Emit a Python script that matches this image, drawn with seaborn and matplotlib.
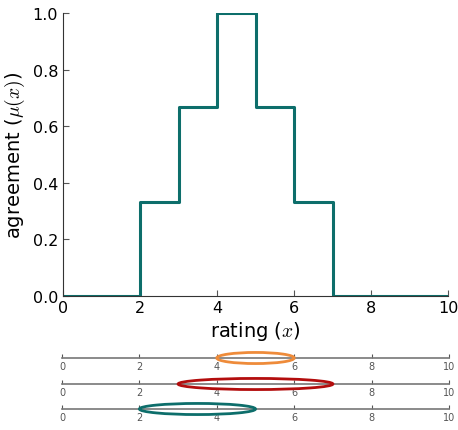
import numpy as np
import matplotlib
matplotlib.use("Agg")
import matplotlib.pyplot as plt
from matplotlib.patches import Ellipse
import pandas as pd
import seaborn as sns

# step function: agreement among the three ratings
rating_x = [0, 2, 3, 4, 5, 6, 7, 10]
agreement = [0.0, 1 / 3, 2 / 3, 1.0, 2 / 3, 1 / 3, 0.0, 0.0]

# rating intervals (top to bottom)
interval_lo = [4, 3, 2]
interval_hi = [6, 7, 5]
interval_colors = ["#ee8b3a", "#b30d0d", "#0d6e6b"]

line_color = "#0d6e6b"
axis_ticks = [0, 2, 4, 6, 8, 10]

sns.set_style("white")
plt.rcParams["font.family"] = ["DejaVu Sans"]
plt.rcParams["mathtext.fontset"] = "cm"
plt.rcParams["text.color"] = "black"
plt.rcParams["axes.labelcolor"] = "black"
plt.rcParams["xtick.color"] = "black"
plt.rcParams["ytick.color"] = "black"

fig = plt.figure(figsize=(4.58, 4.31), dpi=100)
W, H = 458, 431

def frac(l, t, r, b):
    return [l / W, 1 - b / H, (r - l) / W, (b - t) / H]

ax = fig.add_axes(frac(63, 14, 448, 297))
df = pd.DataFrame({"x": rating_x, "y": agreement})
sns.lineplot(data=df, x="x", y="y", ax=ax, color=line_color, linewidth=2.2,
             drawstyle="steps-post")
ax.set_xlim(0, 10)
ax.set_ylim(0, 1)
ax.set_xticks(axis_ticks)
ax.set_yticks([0, 0.2, 0.4, 0.6, 0.8, 1.0])
ax.set_yticklabels(["0.0", "0.2", "0.4", "0.6", "0.8", "1.0"])
ax.tick_params(direction="in", length=4, labelsize=11.5, color="#555555",
               labelcolor="black", bottom=True, left=True)
ax.tick_params(axis="x", pad=3)
ax.set_xlabel(r"rating ($x$)", fontsize=14, labelpad=3)
ax.set_ylabel(r"agreement ($\mu(x)$)", fontsize=14)
for s in ["top", "right"]:
    ax.spines[s].set_visible(False)
for s in ["left", "bottom"]:
    ax.spines[s].set_color("#333333")
    ax.spines[s].set_linewidth(0.8)

# small number lines with ellipses
line_y = [359, 385, 410]
for i in range(3):
    sax = fig.add_axes(frac(62, line_y[i] - 6, 449, line_y[i] + 6))
    sax.set_xlim(0, 10)
    sax.set_ylim(-1, 1)
    lo, hi = interval_lo[i], interval_hi[i]
    sax.add_patch(Ellipse(((lo + hi) / 2, 0), hi - lo, 1.85, fill=False,
                          edgecolor=interval_colors[i], linewidth=2.0,
                          clip_on=False, zorder=3))
    sax.set_xticks(axis_ticks)
    sax.set_yticks([])
    sax.tick_params(axis="x", direction="in", length=3, labelsize=7,
                    colors="#555555", pad=2, bottom=True)
    for s in ["top", "right", "left"]:
        sax.spines[s].set_visible(False)
    sax.spines["bottom"].set_position(("data", 0))
    sax.spines["bottom"].set_color("#777777")
    sax.spines["bottom"].set_linewidth(1.2)
    sax.patch.set_alpha(0)

fig.savefig("out.png", dpi=100)
